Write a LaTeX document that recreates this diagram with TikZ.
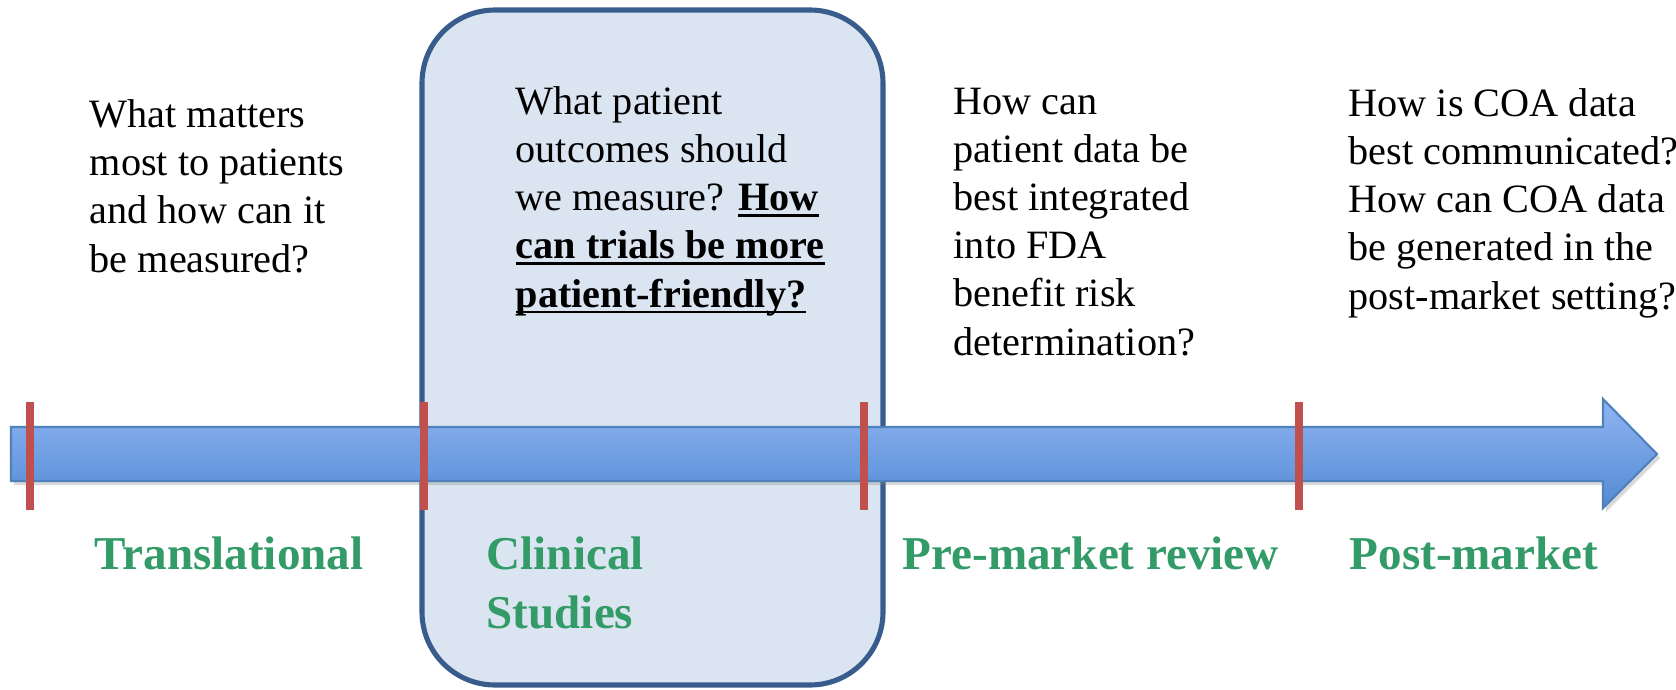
\documentclass[tikz,border=0pt]{standalone}
\usepackage{fontspec}
\setmainfont{Liberation Serif}
\usetikzlibrary{shadows}

\definecolor{stagegreen}{RGB}{51,155,104}
\definecolor{boxfill}{RGB}{219,229,241}
\definecolor{boxline}{RGB}{56,93,140}
\definecolor{tickred}{RGB}{192,80,77}
\definecolor{arrowtop}{RGB}{143,181,242}
\definecolor{arrowbot}{RGB}{84,138,212}
\definecolor{arrowline}{RGB}{79,129,189}

% bold text with a flat underline at fixed depth
\newcommand{\ulbold}[1]{\setbox0\hbox{\bfseries #1}\rlap{\rule[-0.16em]{\wd0}{0.07em}}\box0}

\begin{document}
\begin{tikzpicture}[
    question/.style={anchor=base west, inner sep=0pt, align=left, font=\fontsize{11.45}{13.7}\selectfont},
    stage/.style={anchor=base west, inner sep=0pt, align=left, text=stagegreen, font=\fontsize{13.4}{16.6}\selectfont\bfseries},
    phasetick/.style={draw=tickred, line width=0.08cm, drop shadow={opacity=0.3, shadow xshift=0.02, shadow yshift=-0.02}}
]
    \useasboundingbox (0,0) rectangle (16.76,6.89);

    % Highlighted phase
    \draw[boxline, fill=boxfill, line width=1.45pt, rounded corners=0.73cm] (4.22,0.04) rectangle (8.83,6.79);

    % Timeline
    \path[draw=arrowline, line width=0.6pt, top color=arrowtop, bottom color=arrowbot,
          drop shadow={opacity=0.3, shadow xshift=0.03, shadow yshift=-0.04}]
        (0.11,2.08) -- (0.11,2.62) -- (16.03,2.62) -- (16.03,2.90) -- (16.57,2.35)
        -- (16.03,1.81) -- (16.03,2.08) -- cycle;

    % Phase boundaries
    \foreach \x in {0.30,4.24,8.64,12.99}
        \draw[phasetick] (\x,1.79) -- (\x,2.87);

    % Questions (placed by the baseline of their last line)
    \node[question] (qtrans) at (0.89,4.17) {What matters\\most to patients\\and how can it\\be measured?};
    \node[question] (qclin) at (5.15,3.82) {What patient\\outcomes should\\we measure? \ulbold{How}\\\ulbold{can trials be more}\\\ulbold{patient-friendly?}};
    \node[question] (qpre) at (9.53,3.34) {How can\\patient data be\\best integrated\\into FDA\\benefit risk\\determination?};
    \node[question] (qpost) at (13.48,3.80) {How is COA data\\best communicated?\\How can COA data\\be generated in the\\post-market setting?};

    % Phase names
    \node[stage] (translational) at (0.94,1.20) {Translational};
    \node[stage] (clinical) at (4.86,0.61) {Clinical\\Studies};
    \node[stage] (premarket) at (9.02,1.20) {Pre-market review};
    \node[stage] (postmarket) at (13.49,1.20) {Post-market};
\end{tikzpicture}
\end{document}
